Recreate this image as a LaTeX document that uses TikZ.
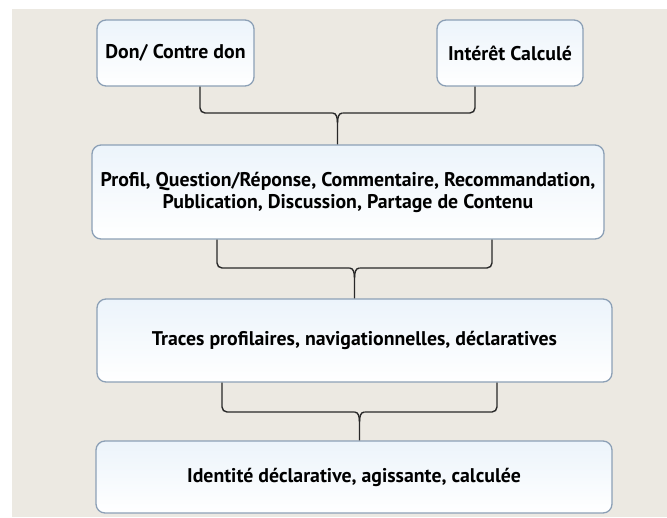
\documentclass[tikz,border=0pt]{standalone}
\usepackage{fontspec}
\setmainfont{PT Sans}
\usetikzlibrary{calc}
\definecolor{bg}{RGB}{236,233,226}
\definecolor{bord}{RGB}{140,160,182}
\definecolor{ln}{RGB}{40,40,40}
\definecolor{tint}{RGB}{236,244,251}
\begin{document}
\begin{tikzpicture}[x=1pt,y=-1pt,
  box/.style={draw=bord, line width=1.3pt, rounded corners=9pt, top color=tint, bottom color=white,
    align=center, font=\fontsize{19.8}{22}\selectfont\bfseries, inner sep=0pt},
  conn/.style={draw=ln, line width=1.4pt}]
\fill[white] (0,0) rectangle (667,517);
\useasboundingbox (0,0) rectangle (667,517);
\fill[bg] (12,9) rectangle (667,517);

\node[box, minimum width=157pt, minimum height=66pt] (b1) at (175.5,53) {Don/ Contre don};
\node[box, minimum width=146pt, minimum height=66pt] (b2) at (510,53) {Intérêt Calculé};
\node[box, minimum width=512pt, minimum height=94pt] (b3) at (348,192)
  {Profil, Question/Réponse, Commentaire, Recommandation,\\ Publication, Discussion, Partage de Contenu};
\node[box, minimum width=515pt, minimum height=83pt] (b4) at (354.5,340.5) {Traces profilaires, navigationnelles, déclaratives};
\node[box, minimum width=516pt, minimum height=72pt] (b5) at (354,477) {Identité déclarative, agissante, calculée};

% top brace
\coordinate (aL) at ($(b1.south)+(24.5,0)$);
\coordinate (aR) at ($(b2.south)+(-35,0)$);
\coordinate (aM) at ($(b3.north)+(-10.5,0)$);
\draw[conn, rounded corners=5pt] (aL) -- (aL |- 0,113) -- ($(aM |- 0,113)+(-5,0)$);
\draw[conn] ($(aM |- 0,113)+(-5,0)$) to[out=0,in=90] ($(aM |- 0,113)+(0,10)$) -- (aM);
\draw[conn, rounded corners=5pt] (aR) -- (aR |- 0,113) -- ($(aM |- 0,113)+(5,0)$);
\draw[conn] ($(aM |- 0,113)+(5,0)$) to[out=180,in=90] ($(aM |- 0,113)+(0,10)$);

% middle brace
\coordinate (cL) at ($(b3.south)+(-131,0)$);
\coordinate (cR) at ($(b3.south)+(144,0)$);
\coordinate (cM) at (b4.north);
\draw[conn, rounded corners=5pt] (cL) -- (cL |- 0,268) -- ($(cM |- 0,268)+(-5,0)$);
\draw[conn] ($(cM |- 0,268)+(-5,0)$) to[out=0,in=90] ($(cM |- 0,268)+(0,10)$) -- (cM);
\draw[conn, rounded corners=5pt] (cR) -- (cR |- 0,268) -- ($(cM |- 0,268)+(5,0)$);
\draw[conn] ($(cM |- 0,268)+(5,0)$) to[out=180,in=90] ($(cM |- 0,268)+(0,10)$);

% bottom brace
\coordinate (dL) at ($(b4.south)+(-132.5,0)$);
\coordinate (dR) at ($(b4.south)+(142.5,0)$);
\coordinate (dM) at ($(b5.north)+(5.5,0)$);
\draw[conn, rounded corners=5pt] (dL) -- (dL |- 0,412) -- ($(dM |- 0,412)+(-5,0)$);
\draw[conn] ($(dM |- 0,412)+(-5,0)$) to[out=0,in=90] ($(dM |- 0,412)+(0,10)$) -- (dM);
\draw[conn, rounded corners=5pt] (dR) -- (dR |- 0,412) -- ($(dM |- 0,412)+(5,0)$);
\draw[conn] ($(dM |- 0,412)+(5,0)$) to[out=180,in=90] ($(dM |- 0,412)+(0,10)$);
\end{tikzpicture}
\end{document}
